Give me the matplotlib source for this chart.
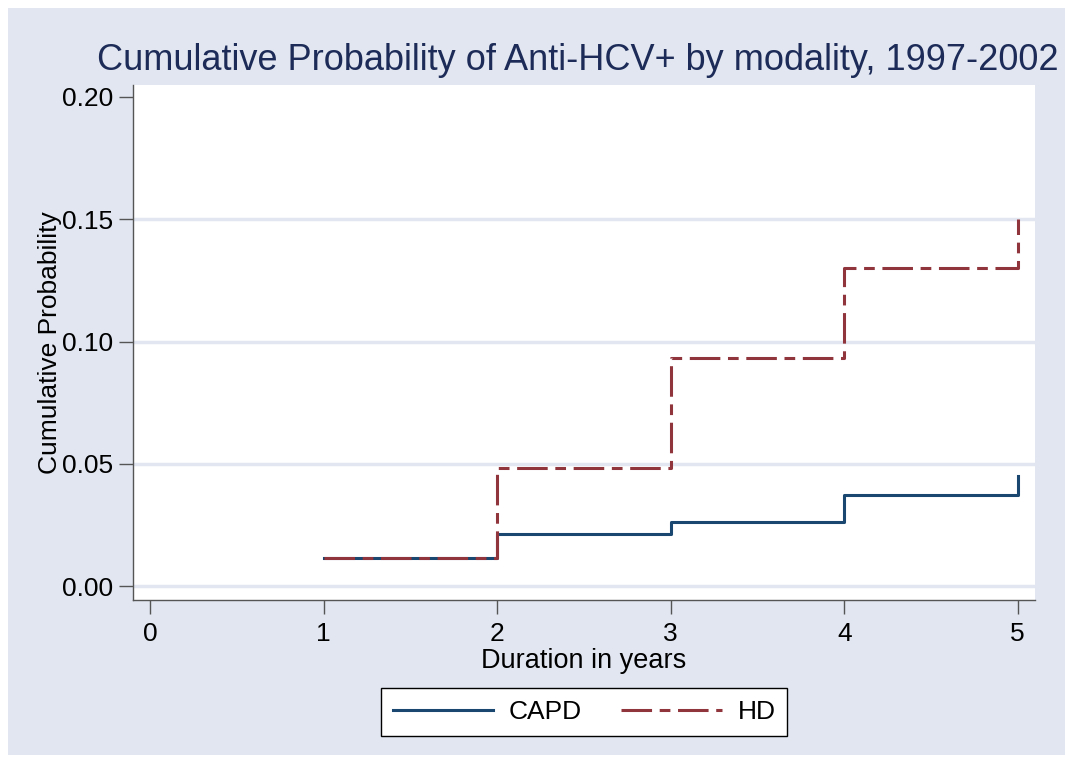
import matplotlib.pyplot as plt
from matplotlib.patches import Rectangle

# step data (value holds from x[i] to x[i+1])
years = [1, 2, 3, 4, 5]
capd = [0.0115, 0.0213, 0.026, 0.0372, 0.045]
hd = [0.0115, 0.0483, 0.0933, 0.130, 0.150]
yticks = [0.00, 0.05, 0.10, 0.15, 0.20]
xticks = [0, 1, 2, 3, 4, 5]

bg = '#E1E6F0'
navy = '#1A476F'
maroon = '#90353B'

plt.rcParams['font.family'] = ['Liberation Sans', 'DejaVu Sans']

fig = plt.figure(figsize=(10.78, 7.64), dpi=100)
fig.patch.set_facecolor('white')
W, H = 1078, 764
fig.patches.append(Rectangle((8 / W, 9 / H), 1057 / W, 747 / H, transform=fig.transFigure,
                             facecolor=bg, edgecolor='none', zorder=-10))

ax = fig.add_axes([133 / W, 1 - 600 / H, 902 / W, 515 / H])
ax.set_facecolor('white')

def steps(xs, ys):
    sx, sy = [], []
    for i in range(len(xs) - 1):
        sx += [xs[i], xs[i + 1]]
        sy += [ys[i], ys[i]]
    sx.append(xs[-1])
    sy.append(ys[-1])
    return sx, sy

cx, cy = steps(years, capd)
hx, hy = steps(years, hd)
ax.plot(cx, cy, color=navy, lw=2.2, label='CAPD', zorder=3)
ax.plot(hx, hy, color=maroon, lw=2.2, dashes=(10, 2.5, 3.5, 2.5), label='HD', zorder=4)

ax.set_xlim(-0.1, 5.1)
ax.set_ylim(-0.0057, 0.2049)
ax.set_yticks(yticks)
ax.set_yticklabels([f'{v:.2f}' for v in yticks])
ax.set_xticks(xticks)
for v in yticks[:-1]:
    ax.axhline(v, color=bg, lw=2.5, zorder=1)

for s in ['top', 'right']:
    ax.spines[s].set_visible(False)
for s in ['left', 'bottom']:
    ax.spines[s].set_color('#555555')
    ax.spines[s].set_linewidth(1)
ax.tick_params(axis='both', direction='out', length=10, width=1, color='#555555',
               labelsize=19, labelcolor='black', pad=4)
ax.tick_params(axis='x', pad=6)

ax.set_xlabel('Duration in years', fontsize=19.5, labelpad=1)
ax.yaxis.set_label_coords(-0.079, 0.5)
ax.set_ylabel('Cumulative Probability', fontsize=19)

fig.text(97 / W, 1 - 60 / H, 'Cumulative Probability of Anti-HCV+ by modality, 1997-2002',
         fontsize=26, color='#1C2B57', va='center', ha='left')

leg = ax.legend(loc='center', bbox_to_anchor=(584 / W, 1 - 712 / H), bbox_transform=fig.transFigure,
                ncol=2, fontsize=19, frameon=True, fancybox=False, framealpha=1, handlelength=3.8,
                columnspacing=1.5, handletextpad=0.6, borderpad=0.45, borderaxespad=0)
leg.get_frame().set_edgecolor('black')
leg.get_frame().set_facecolor('white')
leg.get_frame().set_linewidth(1)

fig.savefig('out.png', dpi=100)
